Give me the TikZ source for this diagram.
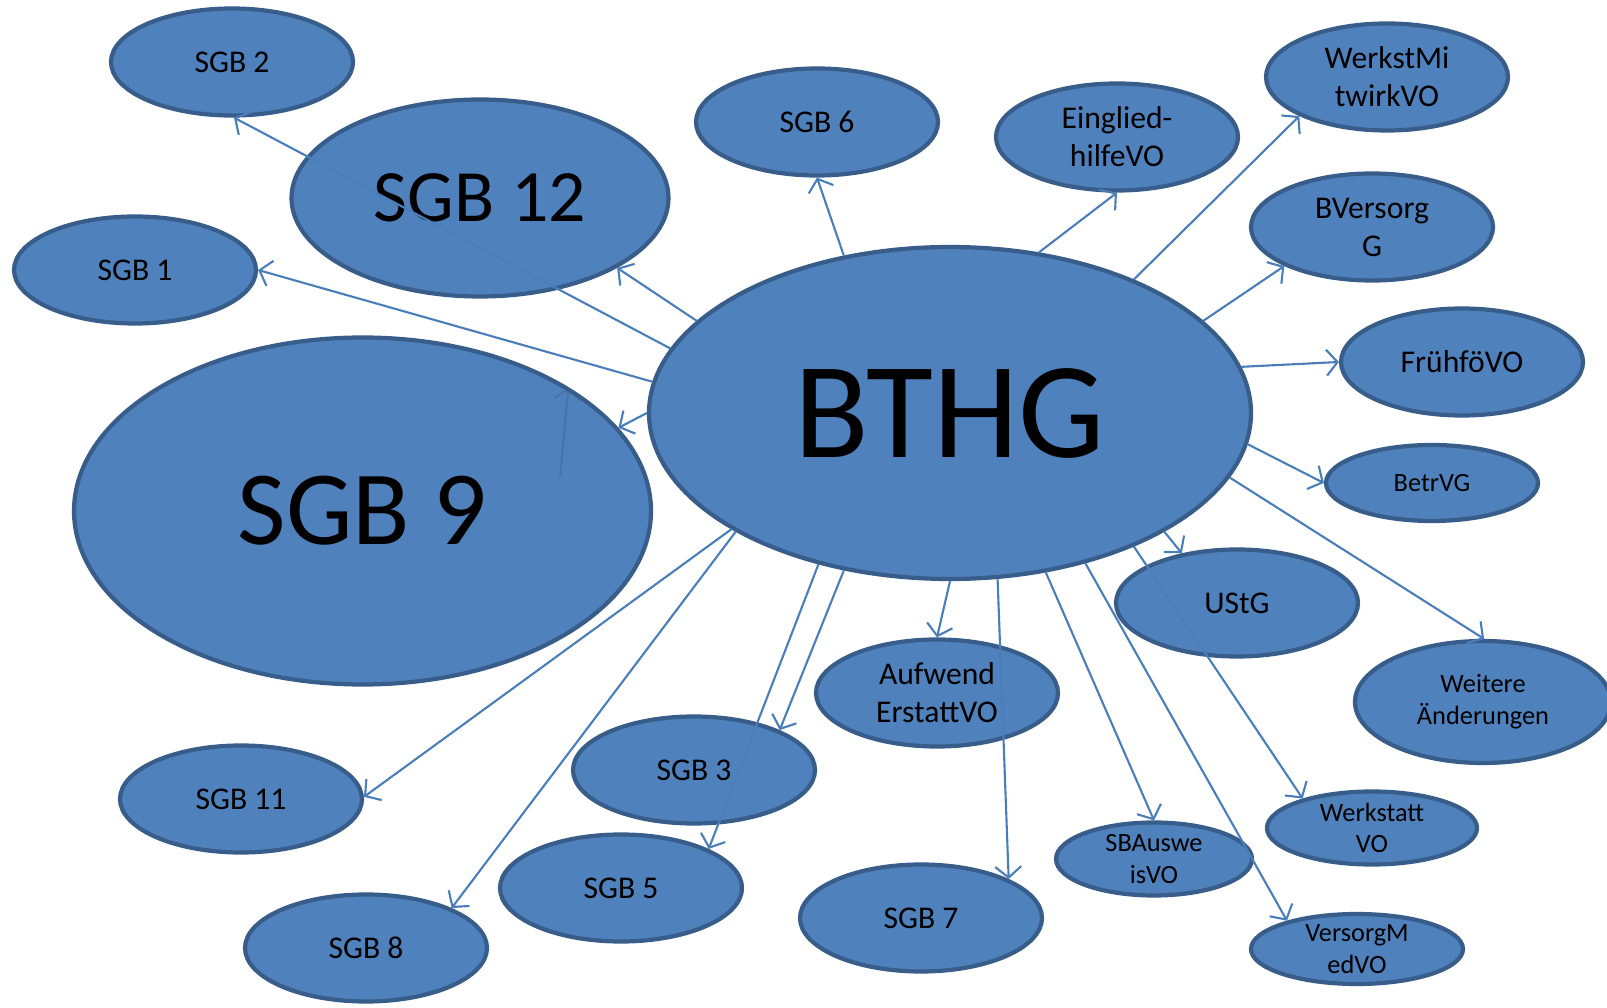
\documentclass[tikz,border=0pt]{standalone}
\usepackage{fontspec}
\setmainfont{Carlito}
\usetikzlibrary{shapes.geometric,arrows.meta}
\definecolor{lawfill}{HTML}{4F81BD}
\definecolor{lawborder}{HTML}{385D8A}
\definecolor{linkblue}{HTML}{4A7EBB}
\begin{document}
\begin{tikzpicture}[
        law/.style ={ellipse, draw=lawborder, fill=lawfill, line width=1.2pt, inner sep=0pt, align=center,
            minimum width=2.42cm, minimum height=1.07cm, font=\fontsize{9}{10.8}\selectfont},
        smalllaw/.style ={law, minimum width=2.1cm, minimum height=0.73cm, font=\fontsize{7.5}{9}\selectfont},
        link/.style ={draw=linkblue, line width=0.6pt, -{Straight Barb[length=1.1mm,width=2.6mm]}},
    ]
    \useasboundingbox (0,0) rectangle (16.07,-10.08);
    % big ones
    \node[law, minimum width=6.02cm, minimum height=3.32cm, font=\fontsize{39}{45}\selectfont] (bthg) at (9.50,-4.13) {BTHG};
    \node[law, minimum width=5.77cm, minimum height=3.47cm, font=\fontsize{30}{36}\selectfont] (sgb9) at (3.625,-5.11) {SGB 9};
    \node[law, minimum width=3.77cm, minimum height=1.97cm, font=\fontsize{21}{25}\selectfont] (sgb12) at (4.80,-1.98) {SGB 12};
    % top and left
    \node[law] (sgb2) at (2.32,-0.62) {SGB 2};
    \node[law] (sgb1) at (1.35,-2.70) {SGB 1};
    \node[law] (sgb6) at (8.17,-1.22) {SGB 6};
    \node[law] (eingl) at (11.17,-1.37) {Einglied-\\hilfeVO};
    \node[law] (werkstmi) at (13.87,-0.77) {WerkstMi\\twirkVO};
    \node[law] (bversorg) at (13.72,-2.27) {BVersorg\\G};
    \node[law] (fruehfoe) at (14.62,-3.62) {FrühföVO};
    \node[smalllaw, minimum width=2.12cm, minimum height=0.76cm] (betrvg) at (14.32,-4.83) {BetrVG};
    % bottom
    \node[law] (ustg) at (12.37,-6.03) {UStG};
    \node[smalllaw, minimum width=2.56cm, minimum height=1.22cm] (weitere) at (14.83,-7.02) {Weitere\\Änderungen};
    \node[smalllaw] (werkstatt) at (13.72,-8.28) {Werkstatt\\VO};
    \node[smalllaw, minimum width=2.12cm, minimum height=0.70cm] (versorgmed) at (13.57,-9.49) {VersorgM\\edVO};
    \node[smalllaw, minimum width=1.96cm] (sbausweis) at (11.54,-8.59) {SBAuswe\\isVO};
    \node[law] (sgb7) at (9.21,-9.18) {SGB 7};
    \node[law] (aufwend) at (9.37,-6.93) {Aufwend\\ErstattVO};
    \node[law] (sgb3) at (6.94,-7.70) {SGB 3};
    \node[law] (sgb5) at (6.21,-8.88) {SGB 5};
    \node[law] (sgb8) at (3.66,-9.48) {SGB 8};
    \node[law] (sgb11) at (2.41,-7.99) {SGB 11};
    \coordinate (ghost) at (5.60,-4.77);

    \path (bthg.167) edge[link] (sgb2.-88);
    \path (bthg.160) edge[link] (sgb12.-27);
    \path (bthg.174) edge[link] (sgb1.0);
    \path (bthg.180) edge[link] (sgb9.18);
    \path (ghost) edge[link, draw=lawborder, opacity=0.35] (sgb9.31);
    \path (bthg.124) edge[link] (sgb6.-90);
    \path (bthg.61) edge[link] (eingl.-90);
    \path (bthg.36) edge[link] (werkstmi.-156);
    \path (bthg.20) edge[link] (bversorg.-156);
    \path (bthg.9) edge[link] (fruehfoe.180);
    \path (bthg.-6) edge[link] (betrvg.180);
    \path (bthg.-13) edge[link] (weitere.89);
    \path (bthg.-29) edge[link] (ustg.138);
    \path (bthg.-36) edge[link] (werkstatt.157);
    \path (bthg.-48) edge[link] (versorgmed.158);
    \path (bthg.-59) edge[link] (sbausweis.90);
    \path (bthg.-74) edge[link] (sgb7.24);
    \path (bthg.-90) edge[link] (aufwend.90);
    \path (bthg.-124) edge[link] (sgb3.25);
    \path (bthg.-131) edge[link] (sgb5.24);
    \path (bthg.-151) edge[link] (sgb8.25);
    \path (bthg.-152) edge[link] (sgb11.1);
\end{tikzpicture}
\end{document}
